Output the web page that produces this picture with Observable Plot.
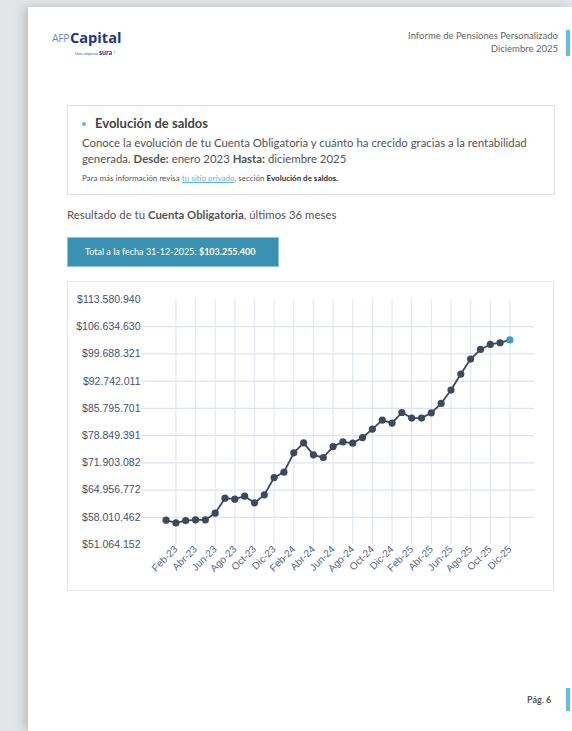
<!DOCTYPE html>
<html><head><meta charset="utf-8">
<script src="https://cdn.jsdelivr.net/npm/d3@7"></script>
<script src="https://cdn.jsdelivr.net/npm/@observablehq/plot@0.6"></script>
<style>
html,body{margin:0;padding:0;}
body{width:572px;height:731px;background:#e3e6e9;position:relative;overflow:hidden;font-family:Lato,"Open Sans",sans-serif;}
#page{position:absolute;left:28px;top:7px;width:544px;height:724px;background:#fff;box-shadow:-4px 0 10px rgba(0,0,0,0.18);}
.abs{position:absolute;white-space:nowrap;}
#chartbox{position:absolute;left:67px;top:281px;width:485px;height:308px;border:1px solid #e6e6e6;background:#fff;}
#chart{position:absolute;left:0;top:0;}
</style></head>
<body>
<div id="page"></div>
<!-- header -->
<div class="abs" style="left:52px;top:31px;font-size:10.5px;line-height:14px;color:#5f86d6;letter-spacing:-0.4px;font-family:'Open Sans',sans-serif;">AFP</div>
<div class="abs" style="left:70px;top:27px;font-size:14.6px;line-height:20px;font-weight:bold;color:#1f3590;font-family:'Open Sans',sans-serif;">Capital</div>
<div class="abs" style="left:75px;top:45px;line-height:8px;color:#3d55a8;"><span style="font-size:4px;">Una empresa </span><span style="font-size:7px;font-weight:bold;color:#1f3590;">sura</span><span style="font-size:6px;color:#1f3590;"> ⁾</span></div>
<div class="abs" style="right:14px;top:29px;font-size:9.5px;color:#666;text-align:right;line-height:13px;">Informe de Pensiones Personalizado<br>Diciembre 2025</div>
<div class="abs" style="left:566px;top:30px;width:4px;height:26px;background:#5fc0df;"></div>
<!-- info box -->
<div class="abs" style="left:67px;top:105px;width:486px;height:88px;border:1px solid #dedede;"></div>
<div class="abs" style="left:82px;top:122px;width:4px;height:4px;border-radius:50%;background:#5db6dc;"></div>
<div class="abs" style="left:95px;top:115px;font-size:13px;font-weight:bold;color:#444;">Evolución de saldos</div>
<div class="abs" style="left:82px;top:135px;font-size:11.4px;color:#555;line-height:15.5px;">Conoce la evolución de tu Cuenta Obligatoria y cuánto ha crecido gracias a la rentabilidad<br>generada. <b>Desde:</b> enero 2023 <b>Hasta:</b> diciembre 2025</div>
<div class="abs" style="left:82px;top:173px;font-size:8px;color:#555;">Para más información revisa <span style="color:#5db6dc;text-decoration:underline;">tu sitio privado</span>, sección <b style="color:#333;">Evolución de saldos.</b></div>
<div class="abs" style="left:67px;top:208px;font-size:11.4px;color:#555;">Resultado de tu <b>Cuenta Obligatoria</b>, últimos 36 meses</div>
<!-- total button -->
<div class="abs" style="left:67px;top:237px;width:210px;height:28px;background:#3a92b3;border:1px solid #8cc4d6;"></div>
<div class="abs" style="left:85px;top:246px;font-size:9px;color:#fff;">Total a la fecha 31-12-2025: <b>$103.255.400</b></div>
<div class="abs" style="left:566px;top:688px;width:4px;height:23px;background:#5fc0df;"></div>
<div class="abs" style="left:527px;top:694px;font-size:9px;font-weight:bold;color:#555;">Pág. 6</div>
<div id="chartbox"><div id="chart"></div></div>
<script>
const months = ["Ene-23","Feb-23","Mar-23","Abr-23","May-23","Jun-23","Jul-23","Ago-23","Sep-23","Oct-23","Nov-23","Dic-23",
"Ene-24","Feb-24","Mar-24","Abr-24","May-24","Jun-24","Jul-24","Ago-24","Sep-24","Oct-24","Nov-24","Dic-24",
"Ene-25","Feb-25","Mar-25","Abr-25","May-25","Jun-25","Jul-25","Ago-25","Sep-25","Oct-25","Nov-25","Dic-25"];
const saldos = [57270000,56580000,57170000,57350000,57350000,59060000,62890000,62630000,63400000,61690000,63730000,68150000,
69530000,74460000,77010000,73950000,73260000,76040000,77270000,76930000,78360000,80510000,82810000,82040000,
84750000,83320000,83320000,84670000,87050000,90470000,94560000,98390000,100840000,102110000,102550000,103255400];
const yTicks = [51064152,58010462,64956772,71903082,78849391,85795701,92742011,99688321,106634630,113580940];
const xTickLabels = ["Feb-23","Abr-23","Jun-23","Ago-23","Oct-23","Dic-23","Feb-24","Abr-24","Jun-24","Ago-24","Oct-24","Dic-24",
"Feb-25","Abr-25","Jun-25","Ago-25","Oct-25","Dic-25"];

const data = months.map((m,i)=>({mes:m, saldo:saldos[i]}));
const locale = d3.formatLocale({decimal:",", thousands:".", grouping:[3], currency:["$",""]});
const fmt = locale.format("$,.0f");

const chart = Plot.plot({
  width: 484, height: 307,
  marginLeft: 73, marginRight: 18, marginTop: 17, marginBottom: 45,
  style: {fontFamily: "'Liberation Sans', Arial, sans-serif", background: "transparent"},
  x: {type: "point", domain: months, padding: 2.5, round: false, label: null},
  y: {domain: [yTicks[0], yTicks[yTicks.length-1]], label: null},
  marks: [
    Plot.ruleY(yTicks.slice(1, -1), {stroke: "#dfe3eb", strokeWidth: 1.2}),
    Plot.ruleX(xTickLabels, {x: d=>d, stroke: "#e3e7ef", strokeWidth: 1.2}),
    Plot.axisY({ticks: yTicks, tickSize: 0, tickPadding: 1, tickFormat: fmt, fontSize: 10.5, color: "#44536d", label: null}),
    Plot.axisX({ticks: xTickLabels, tickSize: 0, tickPadding: 3, tickRotate: -45, fontSize: 10, color: "#506784", label: null}),
    Plot.line(data, {x: "mes", y: "saldo", stroke: "#3b4a5f", strokeWidth: 1.8}),
    Plot.dot(data.slice(0, -1), {x: "mes", y: "saldo", r: 3.6, fill: "#3b4a5f"}),
    Plot.dot(data.slice(-1), {x: "mes", y: "saldo", r: 3.6, fill: "#3aa0c4"})
  ]
});
document.getElementById("chart").appendChild(chart);
</script>
</body></html>
